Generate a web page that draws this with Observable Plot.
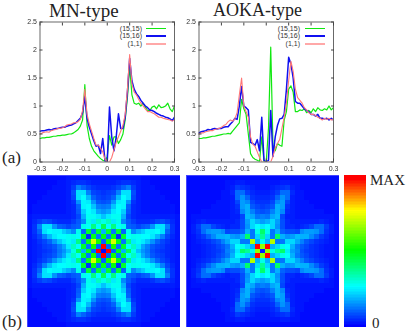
<!DOCTYPE html>
<html><head><meta charset="utf-8">
<script src="https://cdn.jsdelivr.net/npm/d3@7"></script>
<script src="https://cdn.jsdelivr.net/npm/@observablehq/plot@0.6"></script>
<style>
html,body{margin:0;padding:0;background:#fff;width:409px;height:335px;overflow:hidden}
#page{position:relative;width:409px;height:335px;overflow:hidden}
#page>svg{position:absolute}
.serif{position:absolute;font-family:"Liberation Serif",serif;color:#222;white-space:nowrap;line-height:1}
.leg{position:absolute;font:7px "Liberation Sans",sans-serif;color:#333;text-align:right;width:40px;line-height:7px}
.sw{position:absolute;width:20px}
svg{filter:blur(.3px)}
</style></head><body><div id="page"></div>
<script>
const xTicks=[-0.3,-0.2,-0.1,0,0.1,0.2,0.3];
const yTicks=[0,0.5,1,1.5,2,2.5];
const seriesNames=["(15,15)","(15,16)","(1,1)"];
const seriesColors=["#10e810","#1010f0","#ff7777"];
const legendColors=["#10e810","#1010f0","#ffa8a8"];
const seriesWidths=[1.2,1.5,1.1];
const energy=d3.range(-30,31).map(d=>d/100);

const mnGreen=[.42,.43,.43,.44,.44,.45,.46,.46,.47,.47,.48,.48,.49,.5,.5,.52,.55,.58,.64,.75,1.38,.65,.42,.28,.2,.15,.1,.06,.03,.01,.1,.47,.3,.45,.45,.33,.4,.5,.75,1.15,1.7,1.2,1.05,1.03,1.05,1.0,1.05,.98,.92,.92,.98,1.0,.95,1.02,.97,.98,1.0,1.05,.95,.9,1.0];
const mnBlue=[.55,.56,.56,.57,.58,.57,.59,.6,.6,.61,.62,.62,.64,.65,.66,.68,.7,.74,.78,.88,1.17,.78,.62,.5,.38,.28,.3,.15,.42,.02,0,.98,.45,.2,.45,.86,.6,.6,.8,1.25,1.85,1.45,1.3,1.22,1.17,1.1,1.05,1.0,.97,.93,.92,.9,.87,.85,.83,.82,.8,.79,.77,.74,.8];
const mnRed=[.5,.52,.53,.54,.53,.56,.57,.58,.6,.6,.61,.63,.66,.67,.68,.7,.7,.72,.76,.92,1.3,.85,.68,.55,.42,.3,.3,.25,.18,.05,0,0,.08,.22,.35,.45,.55,.65,.85,1.3,1.92,1.4,1.25,1.2,1.12,1.05,1.0,.95,.9,.9,.88,.86,.83,.8,.8,.78,.77,.76,.75,.73,.75];
const aokaGreen=[.42,.42,.43,.43,.44,.45,.46,.46,.47,.48,.49,.5,.5,.51,.5,.55,.6,.65,.7,1.12,.95,.85,.5,.15,.08,.05,.03,.01,.45,0,0,.6,2.05,.3,.2,.33,.3,.28,.75,.9,1.3,1.36,1.25,.9,.9,.93,.92,.95,.88,.92,.88,.95,.9,.97,.93,.92,.95,.93,1.0,.93,.97];
const aokaBlue=[.52,.54,.55,.56,.58,.57,.59,.6,.59,.6,.6,.62,.63,.63,.68,.72,.78,.76,1.0,1.35,1.0,.97,.93,.35,.33,.3,.4,.2,.8,.03,0,.03,.92,.1,.45,.65,.77,.78,.85,1.3,1.87,1.75,1.5,1.08,1.05,1.05,1.0,.95,.92,.9,.85,.85,.82,.85,.78,.78,.77,.78,.75,.78,.75];
const aokaRed=[.5,.52,.52,.54,.55,.56,.56,.58,.59,.6,.62,.65,.67,.72,.75,.73,.77,.88,1.2,1.5,1.0,.9,.8,.45,.32,.28,.18,.08,0,0,0,0,0,.1,.25,.33,.4,.6,.8,1.05,1.45,1.8,1.62,1.3,1.15,1.1,1.05,.97,.93,.88,.85,.85,.83,.8,.78,.75,.78,.76,.78,.75,.76];

// one octant of each symmetric map, by distance from the centre cell
const mnMap=[[1],[98,10],[10,52,72],[48,12,48,5],[18,46,12,46,10],[42,26,38,26,28,10],[28,32,24,28,14,9,6],[20,24,27,27,18,7,4,3],[15,17,24,26,21,9,4,3,2],[12,13,20,26,25,10,4,3,2,2],[8,9,15,24,25,15,5,3,2,2,2],[6,7,10,19,26,23,7,3,2,2,2,2],[5,6,7,13,23,23,8,3,2,2,2,2,1],[4,4,5,7,10,13,6,3,2,2,2,1,1,1],[3,3,3,4,5,5,4,3,2,2,1,1,1,1,1],[2,2,2,2,2,2,2,2,1,1,1,1,1,1,1,1]];
const aokaMap=[[3],[65,98],[28,18,68],[36,22,12,40],[40,28,12,18,10],[24,26,22,15,8,4],[16,18,22,16,8,4,3],[13,12,17,19,7,3,3,2],[8,9,13,18,14,4,3,2,2],[6,7,9,18,16,5,3,2,2,2],[5,5,7,14,16,7,3,2,2,2,1],[4,4,5,10,15,11,3,2,2,1,1,1],[3,3,4,6,11,11,4,2,2,1,1,1,1],[2,2,3,4,5,6,3,2,1,1,1,1,1,1],[2,2,2,2,3,3,2,2,1,1,1,1,1,1,1],[1,1,1,1,1,1,1,1,1,1,1,1,1,1,1,1]];

const colorStops=[0,26,50,76,97,100];
const colorRange=["#0000ff","#00ffff","#00ff00","#ffff00","#ff0000","#ff0000"];
const levels=d3.range(0,100);

const page=document.getElementById("page");
function place(el,left,top){el.style.left=left+"px";el.style.top=top+"px";page.appendChild(el);}
function fmt(d){return String(d);}

function spectrum(green,blue,red,left){
  const rows=[green,blue,red].flatMap((s,k)=>s.map((v,i)=>({x:energy[i],v,k})));
  const p=Plot.plot({
    width:185,height:175,marginLeft:39.5,marginRight:11,marginTop:21.5,marginBottom:13.5,
    style:{background:"transparent",overflow:"visible",fontFamily:"Liberation Sans",fontSize:"7px",color:"#333"},
    x:{domain:[-0.3,0.3]},y:{domain:[0,2.5]},
    marks:[
      ...[0,1,2].map(k=>Plot.line(rows.filter(d=>d.k===k),{x:"x",y:"v",stroke:seriesColors[k],strokeWidth:seriesWidths[k],clip:true})),
      Plot.axisX(xTicks,{anchor:"bottom",tickSize:-3,tickFormat:fmt,tickPadding:7,label:null,stroke:"#444"}),
      Plot.axisX(xTicks,{anchor:"top",tickSize:-3,tickFormat:()=>"",label:null,stroke:"#444"}),
      Plot.axisY(yTicks,{anchor:"left",tickSize:-3,tickFormat:fmt,tickPadding:6,label:null,stroke:"#444"}),
      Plot.axisY(yTicks,{anchor:"right",tickSize:-3,tickFormat:()=>"",label:null,stroke:"#444"}),
      Plot.frame({stroke:"#444",strokeWidth:.8})
    ]});
  place(p,left,0);
}
spectrum(mnGreen,mnBlue,mnRed,0);
spectrum(aokaGreen,aokaBlue,aokaRed,159);

function heat(tri,left){
  const offs=d3.range(-15,16);
  const cells=offs.flatMap(r=>offs.map(c=>{const a=Math.max(Math.abs(r),Math.abs(c)),b=Math.min(Math.abs(r),Math.abs(c));return {r,c,v:tri[a][b]};}));
  const p=Plot.plot({
    width:153,height:152,margin:0,
    style:{background:"transparent",shapeRendering:"crispEdges"},
    x:{type:"band",domain:offs,padding:0,round:false,axis:null},
    y:{type:"band",domain:offs,padding:0,round:false,axis:null},
    color:{type:"linear",domain:colorStops,range:colorRange,interpolate:"rgb"},
    marks:[Plot.cell(cells,{x:"c",y:"r",fill:"v",inset:0}),Plot.frame({stroke:"#4444ff",strokeWidth:1})]});
  place(p,left,175);
}
heat(mnMap,27);
heat(aokaMap,186);

const bar=Plot.plot({
  width:22,height:152,margin:0,
  style:{background:"transparent",shapeRendering:"crispEdges"},
  x:{axis:null},
  y:{type:"band",domain:levels,reverse:true,padding:0,round:false,axis:null},
  color:{type:"linear",domain:colorStops,range:colorRange,interpolate:"rgb"},
  marks:[Plot.cell(levels,{y:d=>d,fill:d=>d,inset:0})]});
place(bar,344,175);

function serif(t,l,top,size){const d=document.createElement("div");d.className="serif";d.textContent=t;d.style.fontSize=size+"px";place(d,l,top);return d;}
serif("MN-type",49,1,19);
serif("AOKA-type",213,1,18);
serif("(a)",2,149,17);
serif("(b)",2,313,17);
serif("MAX",370,173,15);
serif("0",372,316,15);

[[102,146],[260,305]].forEach(([tx,sx])=>{
  seriesNames.forEach((n,i)=>{
    const t=document.createElement("div");t.className="leg";t.textContent=n;place(t,tx,25+i*7.4);
    const s=document.createElement("div");s.className="sw";s.style.background=legendColors[i];s.style.height=(i===2?2:1.5)+"px";place(s,sx,27.7+i*7.4);
  });
});
</script></body></html>
